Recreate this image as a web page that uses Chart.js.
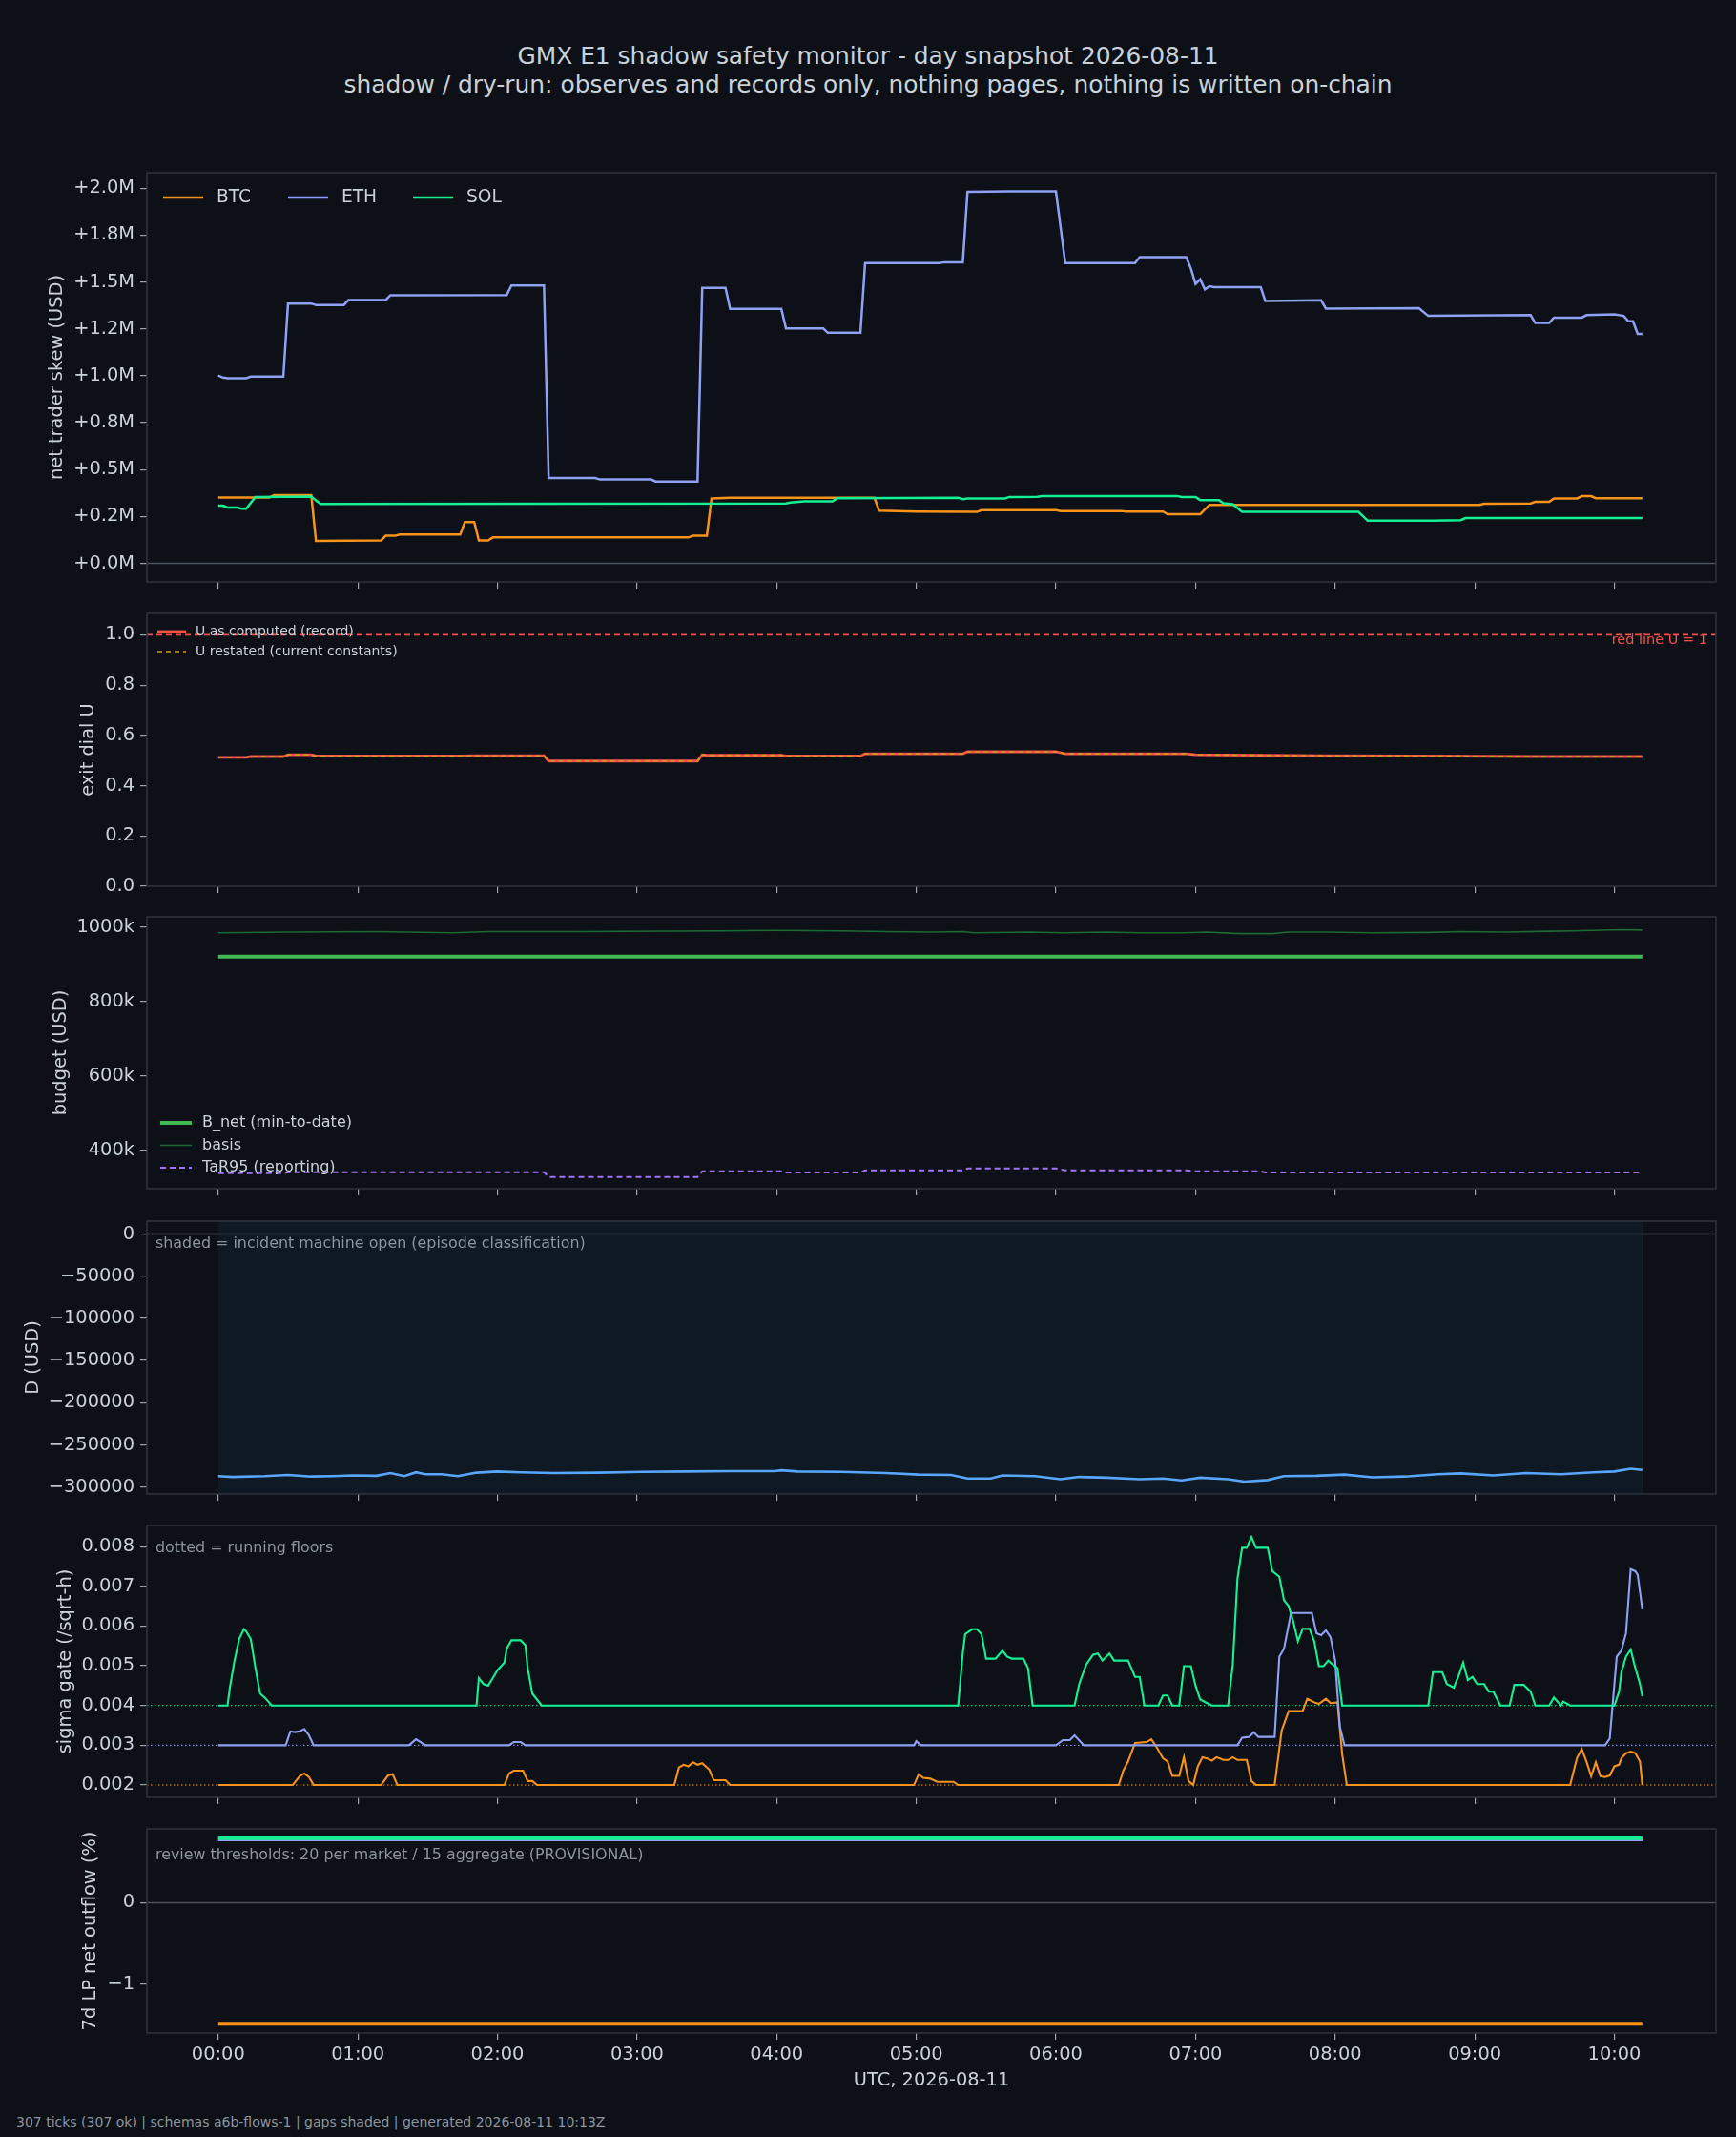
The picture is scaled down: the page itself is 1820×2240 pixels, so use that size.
<!DOCTYPE html>
<html>
<head>
<meta charset="utf-8">
<script src="https://cdn.jsdelivr.net/npm/chart.js@4.4.1/dist/chart.umd.min.js"></script>
<style>
  html, body { margin: 0; padding: 0; background: #0d1117; }
  #page { position: relative; width: 1820px; height: 2240px; overflow: hidden; background: #0d1117;
          font-family: "DejaVu Sans", sans-serif; color: #c9d1d9; }
  .ttl { position: absolute; left: 0; width: 1820px; text-align: center; font-size: 24.9px; line-height: 30px; }
  #foot { position: absolute; left: 17px; top: 2216px; font-size: 14px; line-height: 16px; color: #8b949e; }
  canvas { position: absolute; left: 0; }
</style>
</head>
<body>
<div id="page">
  <div class="ttl" style="top:44px">GMX E1 shadow safety monitor - day snapshot 2026-08-11</div>
  <div class="ttl" style="top:74px">shadow / dry-run: observes and records only, nothing pages, nothing is written on-chain</div>
  <div id="foot">307 ticks (307 ok) | schemas a6b-flows-1 | gaps shaded | generated 2026-08-11 10:13Z</div>
</div>
<script>
// x axis: minutes since 00:00 UTC
const hourTicks = [0, 60, 120, 180, 240, 300, 360, 420, 480, 540, 600];
const hourLabels = ['00:00', '01:00', '02:00', '03:00', '04:00', '05:00', '06:00', '07:00', '08:00', '09:00', '10:00'];

// panel 1: net trader skew, millions USD  [minute, value]
const skewBtc = [[0,0.351],[22,0.351],[24,0.364],[40,0.364],[42,0.120],[70,0.122],[72,0.147],[76,0.147],[78,0.154],[104,0.154],[106,0.220],[110,0.220],[112,0.122],[116,0.122],[118,0.138],[202,0.138],[204,0.147],[210,0.147],[212,0.346],[220,0.349],[282,0.349],[284,0.281],[300,0.276],[326,0.274],[328,0.283],[360,0.283],[362,0.279],[388,0.279],[390,0.276],[406,0.276],[408,0.262],[422,0.262],[426,0.312],[542,0.312],[544,0.318],[564,0.319],[566,0.328],[572,0.328],[574,0.346],[584,0.346],[586,0.358],[590,0.358],[592,0.347],[612,0.347]];
const skewEth = [[0,1.001],[2,0.990],[4,0.987],[12,0.987],[14,0.995],[28,0.995],[30,1.385],[40,1.385],[42,1.377],[54,1.377],[56,1.404],[72,1.404],[74,1.429],[124,1.430],[126,1.481],[140,1.481],[142,0.455],[162,0.455],[164,0.447],[186,0.447],[188,0.436],[206,0.436],[208,1.468],[218,1.468],[220,1.356],[242,1.356],[244,1.252],[260,1.252],[262,1.229],[276,1.229],[278,1.601],[310,1.601],[312,1.605],[320,1.605],[322,1.981],[340,1.983],[360,1.983],[364,1.601],[394,1.601],[396,1.632],[416,1.632],[418,1.572],[420,1.489],[422,1.514],[424,1.460],[426,1.477],[428,1.472],[448,1.472],[450,1.398],[474,1.402],[476,1.358],[516,1.360],[520,1.319],[564,1.323],[566,1.281],[572,1.281],[574,1.310],[586,1.310],[588,1.323],[600,1.327],[604,1.319],[606,1.290],[608,1.290],[610,1.223],[612,1.223]];
const skewSol = [[0,0.307],[2,0.307],[4,0.298],[8,0.298],[10,0.291],[12,0.291],[16,0.354],[40,0.356],[42,0.335],[44,0.317],[244,0.319],[246,0.324],[252,0.330],[264,0.330],[266,0.347],[318,0.349],[320,0.342],[322,0.346],[338,0.346],[340,0.354],[352,0.355],[354,0.358],[364,0.359],[412,0.359],[414,0.354],[420,0.354],[422,0.337],[430,0.337],[432,0.320],[436,0.315],[440,0.274],[490,0.274],[494,0.227],[522,0.227],[534,0.230],[536,0.241],[612,0.241]];
const skewTicks = [0, 0.25, 0.5, 0.75, 1, 1.25, 1.5, 1.75, 2];
const skewLabels = ['+0.0M', '+0.2M', '+0.5M', '+0.8M', '+1.0M', '+1.2M', '+1.5M', '+1.8M', '+2.0M'];

// panel 2: exit dial U (record and restated agree)
const uRecord = [[0,0.513],[12,0.513],[14,0.516],[28,0.516],[30,0.523],[40,0.523],[42,0.518],[104,0.518],[110,0.519],[140,0.519],[142,0.498],[206,0.498],[208,0.523],[210,0.521],[242,0.521],[244,0.518],[276,0.518],[278,0.527],[320,0.527],[322,0.535],[360,0.535],[364,0.527],[416,0.527],[420,0.523],[448,0.521],[476,0.519],[516,0.518],[566,0.516],[612,0.516]];
const uRestated = uRecord;
const uTicks = [0, 0.2, 0.4, 0.6, 0.8, 1.0];
const uLabels = ['0.0', '0.2', '0.4', '0.6', '0.8', '1.0'];

// panel 3: budget, thousands USD
const bNet = [[0,920.5],[612,920.5]];
const basis = [[0,984.2],[30,986.3],[68,987.4],[101,984.2],[116,987.4],[154,987.4],[215,989.5],[239,990.5],[268,989.5],[287,987.4],[306,986.3],[320,987.4],[325,984.2],[349,986.3],[363,984.2],[382,986.3],[396,984.2],[415,984.2],[425,986.3],[439,982.1],[453,982.1],[460,986.3],[477,986.3],[496,984.2],[520,985.2],[534,987.4],[553,986.3],[572,988.4],[582,989.5],[603,992.6],[612,991.6]];
const tar95 = [[0,339],[28,339],[30,342],[140,342],[142,329],[206,329],[208,344],[242,344],[244,341],[276,341],[278,347],[320,347],[322,352],[360,352],[364,347],[416,347],[420,344],[448,344],[450,341],[612,341]];
const budgetTicks = [400, 600, 800, 1000];
const budgetLabels = ['400k', '600k', '800k', '1000k'];

// panel 4: D, USD
const dUsd = [[0,-287064],[6,-287988],[20,-287064],[30,-285678],[40,-287526],[49,-287064],[58,-286140],[68,-286602],[74,-283368],[80,-287064],[85,-282444],[89,-284754],[96,-284754],[103,-287064],[111,-282906],[120,-281520],[130,-282444],[144,-283368],[163,-282906],[182,-281982],[201,-281520],[220,-281058],[239,-281058],[242,-280134],[249,-281520],[268,-281982],[287,-283368],[301,-285216],[315,-285678],[322,-289836],[332,-289836],[337,-286140],[351,-287064],[362,-290760],[370,-287988],[382,-288912],[396,-290760],[406,-289836],[414,-292146],[422,-288912],[434,-290760],[441,-293532],[451,-291684],[458,-287064],[472,-286602],[484,-285216],[496,-288450],[510,-287526],[524,-284754],[534,-283830],[548,-286140],[562,-283368],[577,-284754],[591,-282444],[600,-281520],[607,-278286],[612,-279672]];
const dTicks = [0, -50000, -100000, -150000, -200000, -250000, -300000];
const dLabels = ['0', '\u221250000', '\u2212100000', '\u2212150000', '\u2212200000', '\u2212250000', '\u2212300000'];

// panel 5: sigma gate (/sqrt-h)
const sigBtc = [[0,0.002],[32,0.002],[35,0.00222],[37,0.00229],[39,0.0022],[41,0.002],[70,0.002],[73,0.00224],[75,0.00227],[77,0.002],[123,0.002],[125,0.00229],[127,0.00236],[131,0.00236],[133,0.0021],[135,0.0021],[137,0.002],[196,0.002],[198,0.00244],[200,0.00251],[202,0.00247],[204,0.00257],[206,0.00251],[208,0.00255],[211,0.00239],[213,0.00212],[218,0.00212],[220,0.002],[299,0.002],[301,0.00227],[303,0.00218],[306,0.00216],[309,0.00208],[316,0.00208],[318,0.002],[387,0.002],[389,0.00237],[391,0.00259],[394,0.00306],[399,0.00308],[401,0.00315],[403,0.00298],[406,0.00267],[408,0.00259],[410,0.00223],[413,0.00223],[415,0.0027],[417,0.0021],[419,0.002],[421,0.00247],[423,0.0027],[425,0.00267],[427,0.00261],[429,0.0027],[432,0.00263],[434,0.00263],[436,0.0027],[438,0.00263],[442,0.00263],[444,0.0021],[446,0.002],[454,0.002],[457,0.00337],[460,0.00386],[466,0.00386],[468,0.00417],[471,0.00408],[473,0.00404],[476,0.00417],[478,0.00406],[481,0.00408],[483,0.00278],[485,0.002],[581,0.002],[583,0.00247],[584,0.00269],[586,0.0029],[588,0.00259],[590,0.00222],[592,0.00257],[594,0.00222],[596,0.0022],[598,0.00224],[600,0.00247],[602,0.00251],[603,0.00267],[605,0.0028],[607,0.00284],[609,0.0028],[611,0.00259],[612,0.002]];
const sigEth = [[0,0.003],[29,0.003],[31,0.00335],[33,0.00333],[35,0.00335],[37,0.00341],[39,0.00325],[41,0.003],[82,0.003],[85,0.00315],[87,0.00308],[89,0.003],[125,0.003],[127,0.00308],[130,0.00308],[132,0.003],[299,0.003],[300,0.0031],[302,0.003],[360,0.003],[363,0.00313],[366,0.00313],[368,0.00325],[372,0.003],[438,0.003],[440,0.00319],[443,0.00321],[445,0.00333],[447,0.00321],[454,0.00321],[456,0.00523],[458,0.00543],[461,0.00633],[470,0.00633],[472,0.00582],[474,0.00577],[476,0.00589],[478,0.00572],[480,0.00513],[482,0.00347],[484,0.003],[596,0.003],[598,0.00317],[601,0.00523],[603,0.00538],[605,0.00582],[607,0.00743],[609,0.00738],[610,0.00729],[612,0.00642]];
const sigSol = [[0,0.004],[4,0.004],[5,0.00445],[7,0.00513],[9,0.00567],[11,0.00592],[12,0.00587],[14,0.00567],[16,0.00494],[18,0.0043],[20,0.0042],[23,0.004],[111,0.004],[112,0.00469],[114,0.00454],[116,0.0045],[118,0.00469],[120,0.00489],[123,0.00508],[124,0.00543],[126,0.00564],[130,0.00564],[132,0.00552],[133,0.00494],[135,0.0043],[137,0.00415],[139,0.004],[318,0.004],[320,0.00533],[321,0.0058],[324,0.00592],[326,0.00592],[328,0.0058],[330,0.00518],[334,0.00518],[337,0.00538],[339,0.00523],[341,0.00518],[346,0.00518],[348,0.00494],[350,0.004],[368,0.004],[370,0.00454],[373,0.00503],[376,0.00528],[378,0.00531],[380,0.00513],[383,0.00531],[385,0.00513],[391,0.00513],[394,0.00472],[396,0.00472],[398,0.004],[404,0.004],[406,0.00425],[408,0.00425],[410,0.004],[413,0.004],[415,0.00499],[418,0.00499],[420,0.0045],[422,0.00415],[425,0.00406],[427,0.004],[434,0.004],[436,0.00503],[438,0.00719],[440,0.00797],[442,0.00797],[444,0.00824],[446,0.00797],[451,0.00797],[453,0.00738],[456,0.00724],[458,0.00665],[460,0.0065],[462,0.00611],[464,0.00562],[466,0.00593],[469,0.00593],[471,0.00562],[473,0.00499],[475,0.00499],[477,0.00513],[479,0.00503],[481,0.00494],[483,0.004],[520,0.004],[522,0.00484],[526,0.00484],[528,0.00454],[531,0.00445],[533,0.00474],[535,0.00508],[537,0.00464],[539,0.00472],[541,0.00454],[544,0.00454],[546,0.00435],[548,0.00435],[551,0.004],[555,0.004],[557,0.00452],[561,0.00452],[564,0.00435],[566,0.004],[572,0.004],[574,0.0042],[577,0.004],[578,0.0041],[581,0.004],[600,0.004],[602,0.00435],[603,0.00484],[605,0.00523],[607,0.00541],[609,0.00494],[611,0.00454],[612,0.00423]];
const sigFloors = [0.002, 0.003, 0.004];
const sigTicks = [0.002, 0.003, 0.004, 0.005, 0.006, 0.007, 0.008];
const sigLabels = ['0.002', '0.003', '0.004', '0.005', '0.006', '0.007', '0.008'];

// panel 6: 7d LP net outflow (%)
const lpBtc = [[0,-1.49],[612,-1.49]];
const lpEth = [[0,0.78],[612,0.78]];
const lpSol = [[0,0.795],[612,0.795]];
const lpTicks = [-1, 0];
const lpLabels = ['\u22121', '0'];

// ---------------------------------------------------------------
const FONT = '"DejaVu Sans", sans-serif';
const TXT = '#c9d1d9';
const MUTED = '#8b949e';
const FRAME = '#2d333b';
const ZERO = '#4a525c';
const C_BTC = '#f7931a', C_ETH = '#8fa1f5', C_SOL = '#14f195';
const X_MIN = -30.65, X_MAX = 643.65;
const PLOT_L = 154, PLOT_R = 1799, PAD_T = 24;
const page = document.getElementById('page');

const pts = arr => arr.map(p => ({ x: p[0], y: p[1] }));

function line(label, data, color, width, dash) {
  return { label, data: pts(data), borderColor: color, borderWidth: width, borderDash: dash || [] };
}

function decoPlugin(p, top) {
  return {
    id: 'deco',
    beforeDatasetsDraw(chart) {
      const { ctx, chartArea: a, scales: { x, y } } = chart;
      ctx.save();
      (p.spans || []).forEach(s => {
        ctx.fillStyle = s.color;
        const x0 = x.getPixelForValue(s.x0), x1 = x.getPixelForValue(s.x1);
        ctx.fillRect(x0, a.top, x1 - x0, a.bottom - a.top);
        ctx.strokeStyle = '#18222e'; ctx.lineWidth = 1;
        ctx.beginPath(); ctx.moveTo(x1, a.top); ctx.lineTo(x1, a.bottom); ctx.stroke();
      });
      (p.hlines || []).forEach(h => {
        const py = y.getPixelForValue(h.y);
        ctx.strokeStyle = h.color; ctx.lineWidth = h.width;
        ctx.setLineDash(h.dash || []);
        ctx.beginPath(); ctx.moveTo(a.left, py); ctx.lineTo(a.right, py); ctx.stroke();
      });
      ctx.restore();
    },
    afterDatasetsDraw(chart) {
      const { ctx, chartArea: a } = chart;
      ctx.save();
      ctx.strokeStyle = FRAME; ctx.lineWidth = 1.6; ctx.setLineDash([]);
      ctx.strokeRect(a.left, a.top, a.right - a.left, a.bottom - a.top);
      ctx.textBaseline = 'middle';
      (p.notes || []).forEach(n => {
        ctx.fillStyle = n.color; ctx.font = n.size + 'px ' + FONT;
        ctx.textAlign = n.align || 'left';
        ctx.fillText(n.text, n.x, n.y - top);
      });
      if (p.legend) {
        const L = p.legend;
        ctx.font = L.size + 'px ' + FONT; ctx.textAlign = 'left';
        L.items.forEach(it => {
          const ds = chart.data.datasets[it.ds];
          const yy = it.y - top;
          ctx.strokeStyle = ds.borderColor; ctx.lineWidth = ds.borderWidth;
          ctx.setLineDash(ds.borderDash || []);
          ctx.beginPath(); ctx.moveTo(it.x, yy); ctx.lineTo(it.x + L.len, yy); ctx.stroke();
          ctx.setLineDash([]);
          ctx.fillStyle = TXT;
          ctx.fillText(ds.label, it.x + L.gap, yy);
        });
      }
      ctx.restore();
    }
  };
}

function makePanel(p) {
  const xh = p.last ? 62 : 24;
  const h = PAD_T + (p.bottom - p.top) + xh;
  const top = p.top - PAD_T;
  const cv = document.createElement('canvas');
  cv.width = 1820; cv.height = h;
  cv.style.top = top + 'px';
  page.appendChild(cv);
  const padL = p.titleX - 11.64;
  const n = p.datasets.length;
  const datasets = p.datasets.map((d, i) => Object.assign({
    pointRadius: 0, tension: 0, fill: false, order: n - i
  }, d));
  const gridOpts = { drawOnChartArea: false, drawTicks: true, tickLength: 7, color: '#9aa4ae', lineWidth: 1.2 };
  new Chart(cv.getContext('2d'), {
    type: 'line',
    data: { datasets },
    options: {
      responsive: false, animation: false, devicePixelRatio: 1,
      layout: { padding: { left: padL, right: 1820 - PLOT_R, top: PAD_T, bottom: 0 } },
      plugins: { legend: { display: false }, tooltip: { enabled: false } },
      scales: {
        x: {
          type: 'linear', min: X_MIN, max: X_MAX,
          afterBuildTicks: s => { s.ticks = hourTicks.map(v => ({ value: v })); },
          afterFit: s => { s.height = xh; },
          grid: gridOpts, border: { display: false },
          ticks: { display: !!p.last, color: TXT, font: { family: FONT, size: 19.4 }, padding: 4,
                   maxRotation: 0, autoSkip: false, callback: v => hourLabels[hourTicks.indexOf(v)] },
          title: { display: !!p.last, text: 'UTC, 2026-08-11', color: TXT, font: { family: FONT, size: 19.4 }, padding: 0 }
        },
        y: {
          type: 'linear', min: p.yMin, max: p.yMax,
          afterBuildTicks: s => { s.ticks = p.yTicks.map(v => ({ value: v })); },
          afterFit: s => { s.width = PLOT_L - padL; },
          grid: gridOpts, border: { display: false },
          ticks: { color: TXT, font: { family: FONT, size: 19.4 }, padding: 6, autoSkip: false,
                   callback: v => p.yLabels[p.yTicks.indexOf(v)] },
          title: { display: true, text: p.yTitle, color: TXT, font: { family: FONT, size: 19.4 }, padding: 0 }
        }
      }
    },
    plugins: [decoPlugin(p, top)]
  });
}

makePanel({
  top: 181, bottom: 610, titleX: 60, yTitle: 'net trader skew (USD)',
  yMin: -0.0992, yMax: 2.0824, yTicks: skewTicks, yLabels: skewLabels,
  datasets: [line('BTC', skewBtc, C_BTC, 2.5), line('ETH', skewEth, C_ETH, 2.5), line('SOL', skewSol, C_SOL, 2.5)],
  hlines: [{ y: 0, color: ZERO, width: 1.4 }],
  legend: { size: 18.6, len: 42, gap: 56, items: [{ ds: 0, x: 171, y: 207 }, { ds: 1, x: 302, y: 207 }, { ds: 2, x: 433, y: 207 }] }
});

makePanel({
  top: 643, bottom: 929, titleX: 93, yTitle: 'exit dial U',
  yMin: 0, yMax: 1.085, yTicks: uTicks, yLabels: uLabels,
  datasets: [line('U as computed (record)', uRecord, '#f85149', 2.8), line('U restated (current constants)', uRestated, '#d29922', 1.6, [5, 4])],
  hlines: [{ y: 1, color: '#f85149', width: 1.6, dash: [6, 4] }],
  notes: [{ text: 'red line U = 1', x: 1790, y: 671, color: '#f85149', size: 14.5, align: 'right' }],
  legend: { size: 14, len: 30, gap: 40, items: [{ ds: 0, x: 165, y: 662 }, { ds: 1, x: 165, y: 683 }] }
});

makePanel({
  top: 961, bottom: 1246, titleX: 64, yTitle: 'budget (USD)',
  yMin: 297.6, yMax: 1027.1, yTicks: budgetTicks, yLabels: budgetLabels,
  datasets: [line('B_net (min-to-date)', bNet, '#3fb950', 4), line('basis', basis, '#1d6b30', 1.6), line('TaR95 (reporting)', tar95, '#a371f7', 2, [6, 4])],
  legend: { size: 16, len: 33, gap: 44, items: [{ ds: 0, x: 168, y: 1177 }, { ds: 1, x: 168, y: 1200.5 }, { ds: 2, x: 168, y: 1224 }] }
});

makePanel({
  top: 1280, bottom: 1566, titleX: 35, yTitle: 'D (USD)',
  yMin: -308258, yMax: 15271, yTicks: dTicks, yLabels: dLabels,
  datasets: [line('D', dUsd, '#58a6ff', 2.6)],
  spans: [{ x0: 0, x1: 612, color: '#0f1923' }],
  hlines: [{ y: 0, color: ZERO, width: 1.4 }],
  notes: [{ text: 'shaded = incident machine open (episode classification)', x: 163, y: 1303.5, color: MUTED, size: 15.9 }]
});

makePanel({
  top: 1599, bottom: 1884, titleX: 69, yTitle: 'sigma gate (/sqrt-h)',
  yMin: 0.001689, yMax: 0.008531, yTicks: sigTicks, yLabels: sigLabels,
  datasets: [line('BTC', sigBtc, C_BTC, 2.1), line('ETH', sigEth, C_ETH, 2.1), line('SOL', sigSol, C_SOL, 2.1)],
  hlines: [{ y: sigFloors[0], color: C_BTC, width: 1, dash: [1.5, 2.5] },
           { y: sigFloors[1], color: C_ETH, width: 1, dash: [1.5, 2.5] },
           { y: sigFloors[2], color: C_SOL, width: 1, dash: [1.5, 2.5] }],
  notes: [{ text: 'dotted = running floors', x: 163, y: 1622.5, color: MUTED, size: 15.9 }]
});

makePanel({
  top: 1917, bottom: 2131, titleX: 95, yTitle: '7d LP net outflow (%)', last: true,
  yMin: -1.604, yMax: 0.91, yTicks: lpTicks, yLabels: lpLabels,
  datasets: [line('BTC', lpBtc, C_BTC, 4), line('ETH', lpEth, C_ETH, 4), line('SOL', lpSol, C_SOL, 4)],
  hlines: [{ y: 0, color: ZERO, width: 1.4 }],
  notes: [{ text: 'review thresholds: 20 per market / 15 aggregate (PROVISIONAL)', x: 163, y: 1945, color: MUTED, size: 15.9 }]
});
</script>
</body>
</html>
